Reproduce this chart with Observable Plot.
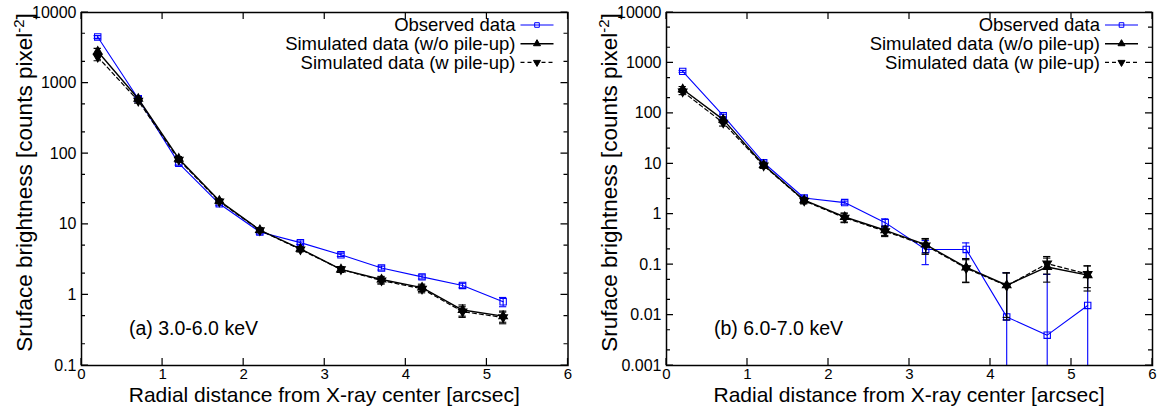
<!DOCTYPE html>
<html><head><meta charset="utf-8">
<script src="https://cdn.jsdelivr.net/npm/d3@7"></script>
<script src="https://cdn.jsdelivr.net/npm/@observablehq/plot@0.6"></script>
<style>
html,body{margin:0;padding:0;background:#fff;}
#wrap{position:relative;width:1159px;height:407px;overflow:hidden;font-family:"Liberation Sans",Arial,Helvetica,sans-serif;}
.panel{position:absolute;top:0;}
</style></head><body><div id="wrap"></div>
<script>
// ---------------- data ----------------
const radius = [0.2, 0.7, 1.2, 1.7, 2.2, 2.7, 3.2, 3.7, 4.2, 4.7, 5.2];

// (a) 3.0-6.0 keV
const obsA     = [4500, 600, 73, 19.5, 7.8, 5.5, 3.7, 2.4, 1.8, 1.36, 0.80];
const obsAErr  = [200, 30, 4, 1.2, 0.5, 0.3, 0.2, 0.15, 0.12, 0.1, 0.12];
const simA     = [2800, 600, 85, 21.5, 8.3, 4.5, 2.3, 1.65, 1.27, 0.61, 0.50];
const simAErr  = [300, 40, 6, 1.5, 0.6, 0.35, 0.22, 0.18, 0.15, 0.11, 0.09];
const pileA    = [2350, 560, 82, 21, 8.2, 4.4, 2.3, 1.6, 1.22, 0.58, 0.48];
const pileAErr = [280, 40, 6, 1.5, 0.6, 0.35, 0.22, 0.18, 0.15, 0.1, 0.09];

// (b) 6.0-7.0 keV
const obsB     = [680, 90, 10.5, 2.1, 1.7, 0.68, 0.2, 0.2, 0.0092, 0.004, 0.0155];
const obsBErr  = [30, 6, 0.8, 0.2, 0.12, 0.13, 0.1, 0.07, 0.06, 0.06, 0.056];
const simB     = [300, 75, 9.5, 1.9, 0.88, 0.48, 0.25, 0.088, 0.039, 0.09, 0.062];
const simBErr  = [40, 10, 1.2, 0.25, 0.18, 0.1, 0.08, 0.044, 0.03, 0.045, 0.032];
const pileB    = [270, 65, 9.2, 1.85, 0.85, 0.46, 0.24, 0.085, 0.038, 0.105, 0.065];
const pileBErr = [35, 9, 1.1, 0.25, 0.17, 0.1, 0.08, 0.04, 0.03, 0.04, 0.03];

const xTicks  = [0, 1, 2, 3, 4, 5, 6];
const yTicksA = [0.1, 1, 10, 100, 1000, 10000];
const yTicksB = [0.001, 0.01, 0.1, 1, 10, 100, 1000, 10000];
const seriesNames = ["Observed data", "Simulated data (w/o pile-up)", "Simulated data (w pile-up)"];
const bandLabels = ["(a) 3.0-6.0 keV", "(b) 6.0-7.0 keV"];
const xTitle = "Radial distance from X-ray center [arcsec]";
const yTitleMain = "Sruface brightness [counts pixel";
const yTitleSup = "-2";
const yTitleEnd = "]";

// ---------------- helpers ----------------
const FONT = '"Liberation Sans", Arial, Helvetica, sans-serif';
const BLUE = "#0000ff";
const triangleDown = {
  draw(ctx, size) {
    const y = -Math.sqrt(size / (Math.sqrt(3) * 3));
    ctx.moveTo(0, -y * 2);
    ctx.lineTo(-Math.sqrt(3) * y, y);
    ctx.lineTo(Math.sqrt(3) * y, y);
    ctx.closePath();
  }
};
const styles = [
  {stroke: BLUE, width: 1.1, dash: null, symbol: "square", fill: "none", r: 3.6},
  {stroke: "#000", width: 1.4, dash: null, symbol: "triangle", fill: "#000", r: 3.2},
  {stroke: "#000", width: 1.2, dash: "4,3", symbol: triangleDown, fill: "#000", r: 3.2}
];

function rows(vals, errs) {
  return radius.map((r, i) => ({r, v: vals[i], lo: Math.max(vals[i] - errs[i], 1e-6), hi: vals[i] + errs[i]}));
}

function seriesMarks(data, st) {
  const cap = 0.045;
  return [
    Plot.line(data, {x: "r", y: "v", stroke: st.stroke, strokeWidth: st.width, strokeDasharray: st.dash, clip: true}),
    Plot.ruleX(data, {x: "r", y1: "lo", y2: "hi", stroke: st.stroke, strokeWidth: 1.1, clip: true}),
    Plot.ruleY(data, {y: "hi", x1: d => d.r - cap, x2: d => d.r + cap, stroke: st.stroke, strokeWidth: 1.1, clip: true}),
    Plot.ruleY(data, {y: "lo", x1: d => d.r - cap, x2: d => d.r + cap, stroke: st.stroke, strokeWidth: 1.1, clip: true}),
    Plot.dot(data, {x: "r", y: "v", symbol: () => st.symbol, r: st.r, stroke: st.stroke, strokeWidth: 1.1, fill: st.fill, clip: true})
  ];
}

function frameTicks(yMajor) {
  const yMinor = yMajor.flatMap(m => [2 * m, 5 * m]).filter(v => v < yMajor[yMajor.length - 1]);
  return (index, scales, values, dims) => {
    const l = dims.marginLeft, t = dims.marginTop;
    const r = dims.width - dims.marginRight, b = dims.height - dims.marginBottom;
    let p = "";
    for (const v of xTicks) { const x = scales.x(v); p += `M${x},${b}v-7M${x},${t}v7`; }
    for (const v of yMajor) { const y = scales.y(v); p += `M${l},${y}h7M${r},${y}h-7`; }
    for (const v of yMinor) { const y = scales.y(v); p += `M${l},${y}h4M${r},${y}h-4`; }
    const g = d3.create("svg:g");
    g.append("path").attr("d", p).attr("fill", "none").attr("stroke", "#000").attr("stroke-width", 1.2);
    return g.node();
  };
}

function annotations(bandLabel, yTitleX) {
  return (index, scales, values, dims) => {
    const l = dims.marginLeft, t = dims.marginTop;
    const r = dims.width - dims.marginRight, b = dims.height - dims.marginBottom;
    const g = d3.create("svg:g").attr("font-family", FONT).attr("fill", "#000");
    // legend
    seriesNames.forEach((name, i) => {
      const st = styles[i];
      const ly = t + 13 + i * 18.7;
      g.append("text").attr("x", r - 52).attr("y", ly).attr("dy", "0.35em")
        .attr("text-anchor", "end").attr("font-size", 18.5).text(name);
      g.append("line").attr("x1", r - 47).attr("x2", r - 14).attr("y1", ly).attr("y2", ly)
        .attr("stroke", st.stroke).attr("stroke-width", st.width).attr("stroke-dasharray", st.dash);
      const sym = typeof st.symbol === "string" ? (st.symbol === "square" ? d3.symbolSquare : d3.symbolTriangle) : st.symbol;
      g.append("path").attr("d", d3.symbol(sym, 2.6 * 2.6 * Math.PI)())
        .attr("transform", `translate(${r - 30.5},${ly})`)
        .attr("fill", st.fill).attr("stroke", st.stroke).attr("stroke-width", 1);
    });
    // band label
    g.append("text").attr("x", l + 48).attr("y", 335).attr("text-anchor", "start")
      .attr("font-size", 19.5).text(bandLabel);
    // x title
    g.append("text").attr("x", (l + r) / 2).attr("y", 401.5).attr("text-anchor", "middle")
      .attr("font-size", 21).text(xTitle);
    // y title
    const yt = g.append("text").attr("transform", `translate(${yTitleX},${(t + b) / 2 - 6}) rotate(-90)`)
      .attr("text-anchor", "middle").attr("font-size", 22.5);
    yt.append("tspan").text(yTitleMain);
    yt.append("tspan").attr("dy", -8).attr("font-size", 15).text(yTitleSup);
    yt.append("tspan").attr("dy", 8).text(yTitleEnd);
    return g.node();
  };
}

function panel({width, marginLeft, marginRight, yDomain, yTicks, obs, sim, pile, label, yTitleX}) {
  return Plot.plot({
    width, height: 407,
    marginLeft, marginRight, marginTop: 12, marginBottom: 42,
    x: {domain: [0, 6]},
    y: {type: "log", domain: yDomain},
    style: {fontFamily: FONT, fontSize: "16px", color: "#000", background: "transparent", overflow: "visible"},
    marks: [
      ...seriesMarks(obs, styles[0]),
      ...seriesMarks(pile, styles[2]),
      ...seriesMarks(sim, styles[1]),
      Plot.frame({stroke: "#000", strokeWidth: 1.5}),
      frameTicks(yTicks),
      Plot.axisX({ticks: xTicks, tickSize: 0, tickPadding: 3, label: null, fontSize: 15, tickFormat: d => String(d), fill: "#000"}),
      Plot.axisY({ticks: yTicks, tickSize: 0, tickPadding: 5, label: null, tickFormat: d => String(+d.toPrecision(6)), fill: "#000"}),
      annotations(label, yTitleX)
    ]
  });
}

const wrap = document.getElementById("wrap");
const left = panel({
  width: 580, marginLeft: 81, marginRight: 12.5, yDomain: [0.1, 10000], yTicks: yTicksA,
  obs: rows(obsA, obsAErr), sim: rows(simA, simAErr), pile: rows(pileA, pileAErr),
  label: bandLabels[0], yTitleX: 32
});
left.classList.add("panel"); left.style.left = "0px";
wrap.appendChild(left);

const right = panel({
  width: 579, marginLeft: 86, marginRight: 7, yDomain: [0.001, 10000], yTicks: yTicksB,
  obs: rows(obsB, obsBErr), sim: rows(simB, simBErr), pile: rows(pileB, pileBErr),
  label: bandLabels[1], yTitleX: 37
});
right.classList.add("panel"); right.style.left = "580px";
wrap.appendChild(right);
</script>
</body></html>
